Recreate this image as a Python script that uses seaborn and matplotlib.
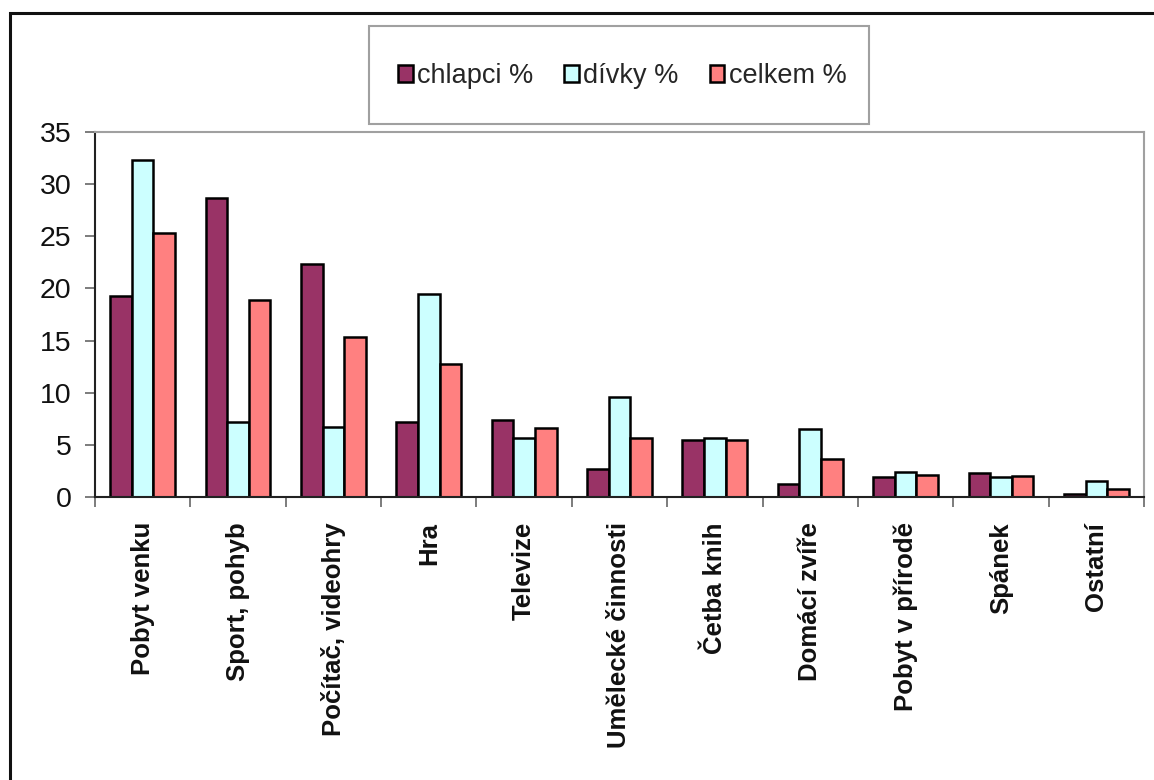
import matplotlib
matplotlib.use("Agg")
import matplotlib.pyplot as plt
from matplotlib.patches import Rectangle
import pandas as pd
import seaborn as sns

categories = ["Pobyt venku", "Sport, pohyb", "Počítač, videohry", "Hra", "Televize",
              "Umělecké činnosti", "Četba knih", "Domácí zvíře", "Pobyt v přírodě",
              "Spánek", "Ostatní"]
chlapci = [19.3, 28.7, 22.3, 7.2, 7.4, 2.7, 5.5, 1.2, 1.9, 2.3, 0.3]
divky = [32.3, 7.2, 6.7, 19.5, 5.7, 9.6, 5.7, 6.5, 2.4, 1.9, 1.5]
celkem = [25.3, 18.9, 15.3, 12.8, 6.6, 5.7, 5.5, 3.6, 2.1, 2.0, 0.8]
series_names = ["chlapci %", "dívky %", "celkem %"]
y_ticks = [0, 5, 10, 15, 20, 25, 30, 35]

rows = []
for name, vals in zip(series_names, [chlapci, divky, celkem]):
    for cat, v in zip(categories, vals):
        rows.append({"kategorie": cat, "skupina": name, "hodnota": v})
df = pd.DataFrame(rows)

sns.set_style("white")
plt.rcParams["font.family"] = ["Liberation Sans", "DejaVu Sans"]

W, H = 1154, 780
fig = plt.figure(figsize=(W / 100, H / 100), dpi=100)
ax = fig.add_axes([95 / W, 1 - 497 / H, (1144 - 95) / W, (497 - 132) / H])

palette = {"chlapci %": "#993366", "dívky %": "#CCFFFF", "celkem %": "#FF8080"}
sns.barplot(data=df, x="kategorie", y="hodnota", hue="skupina", order=categories,
            hue_order=series_names, palette=palette, width=0.68, saturation=1,
            edgecolor="black", linewidth=1.8, ax=ax, legend=True)

ax.set_xlim(-0.5, len(categories) - 0.5)
ax.set_ylim(0, 35)
ax.set_yticks(y_ticks)
ax.set_xlabel("")
ax.set_ylabel("")

# spines: dark left/bottom, grey top/right
for side in ["left", "bottom"]:
    ax.spines[side].set_color("#222222")
    ax.spines[side].set_linewidth(1.5)
for side in ["top", "right"]:
    ax.spines[side].set_visible(True)
    ax.spines[side].set_color("#a0a0a0")
    ax.spines[side].set_linewidth(1.5)

ax.tick_params(axis="y", which="major", left=True, length=7, width=1.2, color="#666666",
               pad=10, labelsize=20.5, labelcolor="#111111")
# category labels at centres, tick marks at group boundaries
ax.tick_params(axis="x", which="major", length=0, pad=18)
ax.set_xticks([i - 0.5 for i in range(len(categories) + 1)], minor=True)
ax.tick_params(axis="x", which="minor", bottom=True, length=7, width=1.2, color="#666666",
               direction="out")
ax.set_xticks(range(len(categories)))
ax.set_xticklabels(categories, rotation=90, fontsize=18.5, fontweight="bold",
                   color="#111111", va="top", ha="center")

# legend in its own box above the plot
handles, labels = ax.get_legend_handles_labels()
ax.get_legend().remove()
fig.patches.append(Rectangle((369 / W, 1 - 124 / H), (869 - 369) / W, (124 - 26) / H,
                             transform=fig.transFigure, facecolor="white",
                             edgecolor="#a0a0a0", linewidth=1.5))
fig.legend(handles, labels, loc="center", bbox_to_anchor=(622 / W, 1 - 76 / H), ncol=3,
           frameon=False, fontsize=19.5, handlelength=0.55, handleheight=0.55,
           handletextpad=0.15, columnspacing=1.15)

# outer frame of the chart
fig.patches.append(Rectangle((10 / W, -0.5), 2.0, 1.5 - 13 / H, transform=fig.transFigure,
                             facecolor="none", edgecolor="#111111", linewidth=2.2))

fig.savefig("out.png", dpi=100, facecolor="white")
